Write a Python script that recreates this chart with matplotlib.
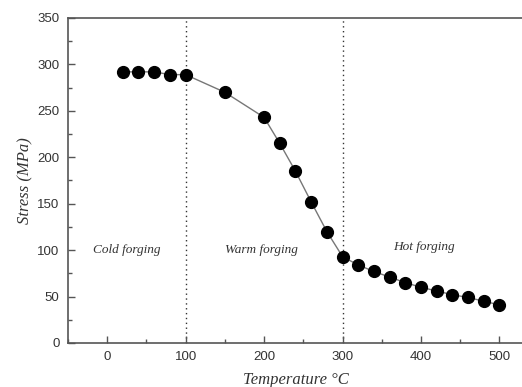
import matplotlib
matplotlib.use('Agg')
import matplotlib.pyplot as plt
from matplotlib.ticker import MultipleLocator

# Flow stress vs forging temperature
temperature = [20, 40, 60, 80, 100, 150, 200, 220, 240, 260, 280, 300,
               320, 340, 360, 380, 400, 420, 440, 460, 480, 500]
stress = [292, 292, 292, 289, 289, 270, 243, 215, 185, 152, 120, 93,
          84, 77, 71, 65, 60, 56, 52, 49, 45, 41]

regions = ['Cold forging', 'Warm forging', 'Hot forging']
region_x = [25, 197, 404]
region_y = [100, 100, 103]
boundaries = [100, 300]

fig = plt.figure(figsize=(5.22, 3.87), dpi=100)
ax = fig.add_axes([0.130, 0.1137, 0.875, 0.8398])

axis_grey = '#555555'
serif = ['Liberation Serif', 'DejaVu Serif']
sans = ['Liberation Sans', 'DejaVu Sans']

ax.plot(temperature, stress, '-', color='#777777', lw=1.0, zorder=2)
ax.plot(temperature, stress, 'o', color='black', ms=8.5, zorder=3)

for b in boundaries:
    ax.axvline(b, color='#333333', lw=1.0, ls=(0, (1, 2.5)), zorder=1)

for name, x, y in zip(regions, region_x, region_y):
    ax.text(x, y, name, ha='center', va='center', style='italic',
            family=serif, fontsize=9.5, color='#333333')

ax.set_xlim(-50, 532)
ax.set_ylim(0, 350)
ax.xaxis.set_major_locator(MultipleLocator(100))
ax.xaxis.set_minor_locator(MultipleLocator(50))
ax.yaxis.set_major_locator(MultipleLocator(50))
ax.yaxis.set_minor_locator(MultipleLocator(25))
ax.tick_params(which='both', direction='in', color=axis_grey,
               top=False, right=False)
ax.tick_params(which='major', length=5, width=1, labelsize=9.5,
               labelcolor='#333333', pad=6)
ax.tick_params(which='minor', length=3, width=1)
for lab in ax.get_xticklabels() + ax.get_yticklabels():
    lab.set_family(sans)

for side in ['left', 'bottom', 'top']:
    ax.spines[side].set_color(axis_grey)
    ax.spines[side].set_linewidth(1.2)
ax.spines['right'].set_visible(False)

ax.set_xlabel('Temperature °C', family=serif, style='italic',
              fontsize=12, color='#333333', labelpad=6)
ax.set_ylabel('Stress (MPa)', family=serif, style='italic',
              fontsize=12, color='#333333', labelpad=3)

fig.savefig('out.png', dpi=100, facecolor='white')
